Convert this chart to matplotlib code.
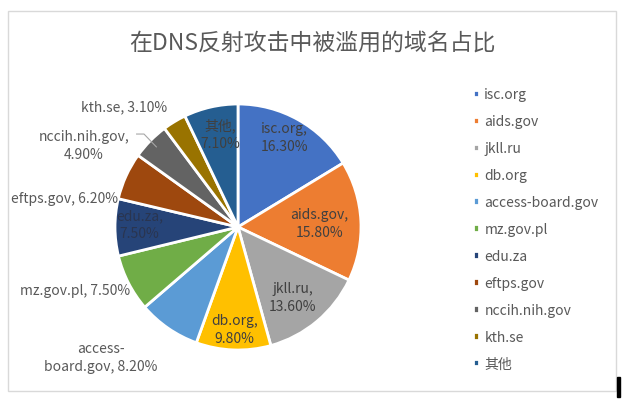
import matplotlib.pyplot as plt
import numpy as np
from matplotlib.patches import Rectangle

plt.rcParams['font.family'] = ['Noto Sans CJK SC', 'DejaVu Sans']
plt.rcParams['font.weight'] = 'light'

domains = ["isc.org", "aids.gov", "jkll.ru", "db.org", "access-board.gov", "mz.gov.pl",
           "edu.za", "eftps.gov", "nccih.nih.gov", "kth.se", "其他"]
shares = [16.30, 15.80, 13.60, 9.80, 8.20, 7.50, 7.50, 6.20, 4.90, 3.10, 7.10]
colors = ["#4472C4", "#ED7D31", "#A5A5A5", "#FFC000", "#5B9BD5", "#70AD47",
          "#264478", "#9E480E", "#636363", "#997300", "#255E91"]

# label text, distance from center (radius units), angle offset (deg)
label_text = ["isc.org,\n16.30%", "aids.gov,\n15.80%", "jkll.ru,\n13.60%", "db.org,\n9.80%",
              "access-\nboard.gov, 8.20%", "mz.gov.pl, 7.50%", "edu.za,\n7.50%",
              "eftps.gov, 6.20%", "nccih.nih.gov,\n4.90%", "kth.se, 3.10%", "其他,\n7.10%"]
label_dist = [0.82, 0.66, 0.72, 0.83, 1.54, 1.42, 0.80, 1.43, 1.42, 1.35, 0.77]
label_shift = [2, 0, -2, 0, -12, -6, -2, 15, 16.5, 12, -2]
inside = [True, True, True, True, False, False, True, False, False, False, True]

W, H = 626, 402
fig = plt.figure(figsize=(W / 100, H / 100), dpi=100)
fig.patches.append(Rectangle((8 / W, 1 - 392 / H), 608 / W, 380 / H, transform=fig.transFigure,
                             fill=False, edgecolor="#D9D9D9", linewidth=1))
fig.patches.append(Rectangle((617 / W, 1 - 398 / H), 3 / W, 20 / H, transform=fig.transFigure,
                             color="black"))

cx, cy, r = 238, 228, 123
ax = fig.add_axes([(cx - r) / W, (H - cy - r) / H, 2 * r / W, 2 * r / H])
wedges, _ = ax.pie(shares, colors=colors, startangle=90, counterclock=False,
                   wedgeprops=dict(edgecolor="white", linewidth=2))
ax.set_xlim(-1, 1)
ax.set_ylim(-1, 1)

pos = []
for i, w in enumerate(wedges):
    ang = np.deg2rad((w.theta1 + w.theta2) / 2 + label_shift[i])
    x, y = label_dist[i] * np.cos(ang), label_dist[i] * np.sin(ang)
    pos.append((x, y))
    col = "#404040" if inside[i] else "#595959"
    if domains[i] == "edu.za":
        col = "#2a3550"
    ax.text(x, y, label_text[i], ha="center", va="center", fontsize=10, color=col,
            linespacing=1.35)

# leader line for nccih.nih.gov
lx, ly = pos[8]
ang = np.deg2rad((wedges[8].theta1 + wedges[8].theta2) / 2)
ax.plot([lx + 0.43, lx + 0.49, 0.93 * np.cos(ang)], [ly + 0.09, ly + 0.09, 0.93 * np.sin(ang)],
        color="#A6A6A6", linewidth=0.8)

fig.text(312 / W, 1 - 43 / H, "在DNS反射攻击中被滥用的域名占比", ha="center", va="center",
         fontsize=16.5, color="#595959")

leg = fig.legend(wedges, domains, loc="upper left", bbox_to_anchor=(460 / W, 1 - 76 / H),
                 frameon=False, fontsize=10, labelcolor="#595959", handlelength=0.45,
                 handleheight=0.45, handletextpad=0.4, labelspacing=0.93)

fig.savefig("out.png", dpi=100)
